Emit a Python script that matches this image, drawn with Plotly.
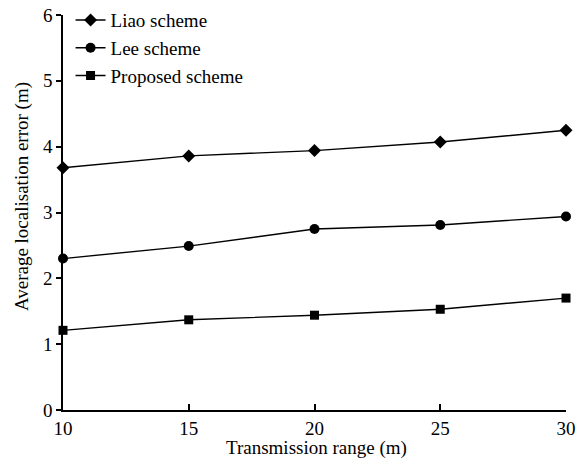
import plotly.graph_objects as go

x_range = [10, 15, 20, 25, 30]
liao = [3.68, 3.86, 3.94, 4.07, 4.25]
lee = [2.30, 2.49, 2.75, 2.81, 2.94]
proposed = [1.21, 1.37, 1.44, 1.53, 1.70]

x_title = "Transmission range (m)"
y_title = "Average localisation error (m)"

font = "Liberation Serif, Times New Roman, serif"

fig = go.Figure()
series = [("Liao scheme", liao, "diamond", 10),
          ("Lee scheme", lee, "circle", 10),
          ("Proposed scheme", proposed, "square", 9)]
for name, vals, sym, sz in series:
    fig.add_trace(go.Scatter(
        x=x_range, y=vals, name=name, mode="lines+markers",
        line=dict(color="black", width=1.4),
        marker=dict(symbol=sym, size=sz, color="black"),
        cliponaxis=False,
    ))

fig.update_layout(
    width=579, height=463,
    margin=dict(l=63, r=13, t=15, b=53, autoexpand=False),
    paper_bgcolor="white", plot_bgcolor="white",
    font=dict(family=font, size=19, color="black"),
    showlegend=True,
    legend=dict(x=0.015, y=1.035, xanchor="left", yanchor="top",
                bgcolor="rgba(0,0,0,0)", font=dict(family=font, size=19),
                tracegroupgap=0, itemwidth=30),
    xaxis=dict(range=[10, 30], tickvals=[10, 15, 20, 25, 30],
               showgrid=False, zeroline=False, showline=True,
               linecolor="black", linewidth=1.5, automargin=False,
               ticks="inside", ticklen=6, tickcolor="black", tickwidth=1.5),
    yaxis=dict(range=[0, 6], tickvals=[0, 1, 2, 3, 4, 5, 6],
               showgrid=False, zeroline=False, showline=True,
               linecolor="black", linewidth=1.5, automargin=False,
               ticks="outside", ticklen=5, tickcolor="black", tickwidth=1.5),
    annotations=[
        dict(text=x_title, xref="paper", yref="paper", x=0.503, y=-0.096,
             xanchor="center", yanchor="middle", showarrow=False,
             font=dict(family=font, size=19)),
        dict(text=y_title, xref="paper", yref="paper", x=-0.0815, y=0.539,
             xanchor="center", yanchor="middle", textangle=-90, showarrow=False,
             font=dict(family=font, size=19)),
    ],
)

fig.write_html("out.html", config={"displayModeBar": False},
               post_script="document.body.style.margin='0';")
